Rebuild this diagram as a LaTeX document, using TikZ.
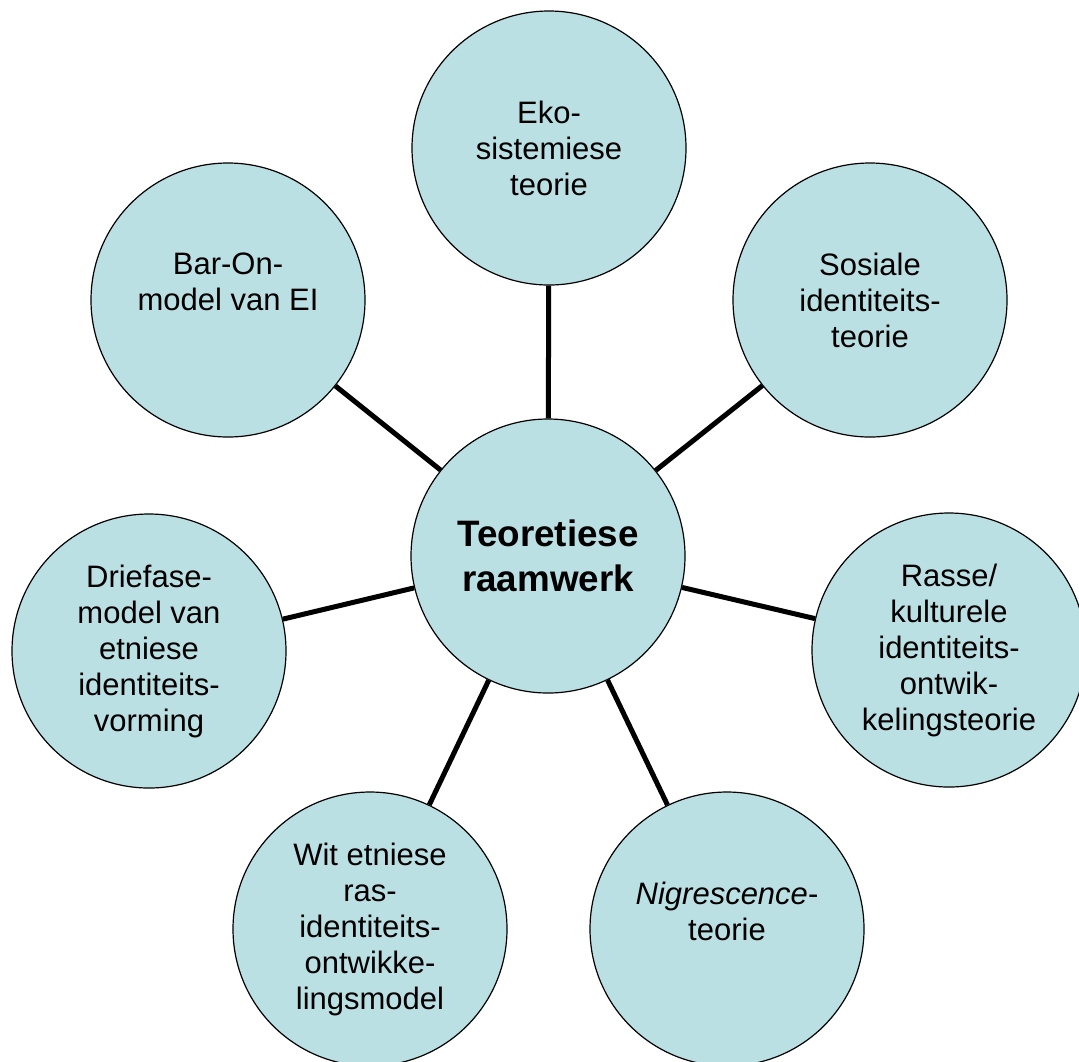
\documentclass[tikz,border=0pt]{standalone}
\usepackage{fontspec}
\setmainfont{Liberation Sans}
\usepackage{tikz}
\usetikzlibrary{positioning}
\definecolor{kring}{RGB}{187, 224, 227}

\tikzset{
    teorie/.style={circle, draw=black, line width=0.6pt, fill=kring, minimum size=137pt,
        inner sep=0pt, align=center, font=\fontsize{15.5}{18}\selectfont},
    spaak/.style={line width=2.5pt, black}
}

\begin{document}
\begin{tikzpicture}[x=0.5pt, y=-0.5pt]
    \useasboundingbox (0,0) rectangle (1079,1061);
    % spokes first, circles on top
    \node[teorie, font=\bfseries\fontsize{18.4}{22.5}\selectfont] (raam) at (548,556) {Teoretiese\\raamwerk};
    \node[teorie] (eko) at (549,148) {Eko-\\sistemiese\\teorie};
    \node[teorie] (sosiaal) at (870,300) {Sosiale\\identiteits-\\teorie};
    \node[teorie] (rasse) at (949,650) {Rasse/\\kulturele\\identiteits-\\ontwik-\\kelingsteorie};
    \node[teorie] (nigr) at (727,929) {\textit{Nigrescence}-\\teorie\\\mbox{}};
    \node[teorie] (wit) at (370,929) {Wit etniese\\ras-\\identiteits-\\ontwikke-\\lingsmodel};
    \node[teorie] (driefase) at (149,651) {Driefase-\\model van\\etniese\\identiteits-\\vorming};
    \node[teorie] (baron) at (228,300) {Bar-On-\\model van EI\\\mbox{}};
    \foreach \n in {eko, sosiaal, rasse, nigr, wit, driefase, baron}
        \draw[spaak] (raam) -- (\n);
\end{tikzpicture}
\end{document}
